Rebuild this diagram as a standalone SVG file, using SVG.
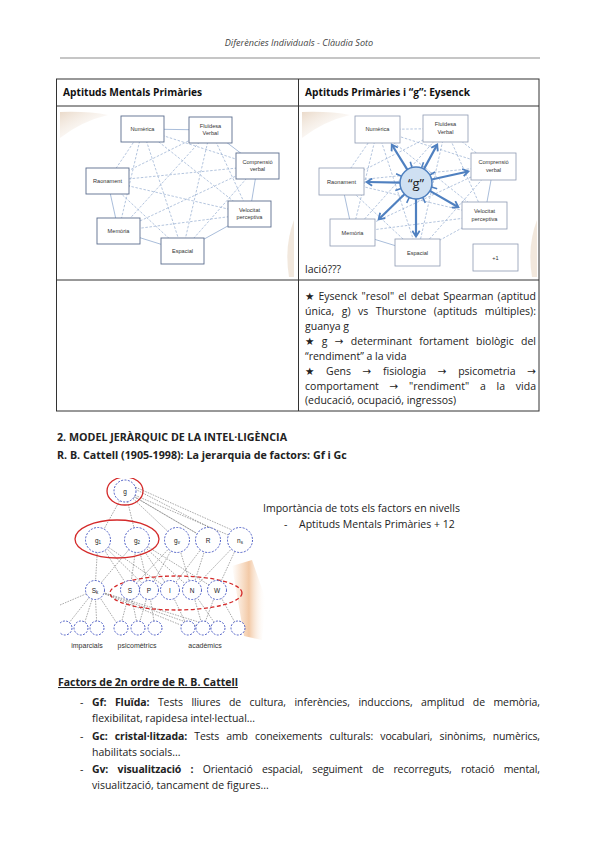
<svg xmlns="http://www.w3.org/2000/svg" width="600" height="848" viewBox="0 0 600 848">
<defs>
<style>
text{font-family:"Open Sans","Noto Sans","DejaVu Sans",sans-serif;fill:#222}
.hdr{font-size:9.1px;font-style:italic;fill:#444}
.th{font-size:10.2px;font-weight:bold;fill:#111}
.body{font-size:10.5px;fill:#222}
.h2{font-size:10.7px;font-weight:bold;fill:#222}
.bb{font-weight:bold}
.box{fill:#fff;stroke:#5b6d8e;stroke-width:0.9}
.box2{fill:#fff;stroke:#8d9ab2;stroke-width:0.8}
.bl{font-size:5.6px;fill:#333;text-anchor:middle;font-family:"Liberation Sans",Arial,sans-serif}
.ds{stroke:#93acd0;stroke-width:0.7;stroke-dasharray:2.5 1.6;fill:none}
.sl{stroke:#93acd0;stroke-width:0.8;fill:none}
.ga{stroke:#4f80c0;stroke-width:2.2;fill:none;marker-end:url(#gh)}
.ray{stroke:#4f80c0;stroke-width:1.6;fill:none}
.hc{fill:#fff;stroke:#3d4fc0;stroke-width:0.9;stroke-dasharray:2 1.4}
.hl{stroke:#555;stroke-width:0.5;stroke-dasharray:1.6 1.1;fill:none}
.red{fill:none;stroke:#d42a2a;stroke-width:1.3}
.hlab{font-size:7px;fill:#333;text-anchor:middle;font-family:"Liberation Sans",Arial,sans-serif}
.nt{font-size:6.5px;text-anchor:middle;fill:#222;font-family:"Liberation Sans",Arial,sans-serif}
.tl{stroke:#333;stroke-width:1;fill:none}
</style>
<marker id="gh" markerUnits="userSpaceOnUse" markerWidth="9" markerHeight="9" refX="6" refY="4.5" orient="auto">
<path d="M0.8,0.8 L6.5,4.5 L0.8,8.2" fill="none" stroke="#4f80c0" stroke-width="1.8"/>
</marker>
<linearGradient id="beige" x1="0" y1="0" x2="1" y2="1">
<stop offset="0" stop-color="#e8d6c4" stop-opacity="0.9"/>
<stop offset="1" stop-color="#ffffff" stop-opacity="0"/>
</linearGradient>
<linearGradient id="peach" x1="0" y1="0" x2="1" y2="0">
<stop offset="0" stop-color="#f4c7a0" stop-opacity="0"/>
<stop offset="0.5" stop-color="#f1c39c" stop-opacity="0.9"/>
<stop offset="1" stop-color="#ffffff" stop-opacity="0"/>
</linearGradient>
<clipPath id="hclip"><rect x="60" y="478" width="210" height="180"/></clipPath>
</defs>

<rect width="600" height="848" fill="#fff"/>

<g id="page-header">
<text class="hdr" x="299" y="46" text-anchor="middle">Diferències Individuals - Clàudia Soto</text>
<line x1="60" y1="58" x2="540" y2="58" stroke="#b3b3b3" stroke-width="1.5"/>
</g>

<g id="table">
<rect class="tl" x="56.5" y="79" width="482.5" height="332"/>
<line class="tl" x1="56.5" y1="106" x2="539" y2="106"/>
<line class="tl" x1="56.5" y1="280" x2="539" y2="280"/>
<line class="tl" x1="298.5" y1="79" x2="298.5" y2="411"/>
<text class="th" x="63" y="96">Aptituds Mentals Primàries</text>
<text class="th" x="305" y="96">Aptituds Primàries i “g”: Eysenck</text>
</g>

<g id="thurstone-image">
<path d="M60,112 Q88,111 108,115 Q82,121 60,138 Z" fill="url(#beige)"/>
<path d="M294,220 Q284,246 289,277 L294,277 Z" fill="#e9d8c6" opacity="0.6"/>
<g id="thurstone-connectors">
<path class="ds" d="M142.5,129 L257.5,166 M142.5,129 L107.5,181 M142.5,129 L249.5,214 M142.5,129 L118.5,231 M142.5,129 L182.5,251 M210.5,130 L107.5,181 M210.5,130 L249.5,214 M210.5,130 L118.5,231 M210.5,130 L182.5,251 M257.5,166 L107.5,181 M257.5,166 L118.5,231 M257.5,166 L182.5,251 M107.5,181 L249.5,214 M107.5,181 L182.5,251 M249.5,214 L118.5,231"/>
<path class="sl" d="M142.5,129 L210.5,130 M210.5,130 L257.5,166 M257.5,166 L249.5,214 M249.5,214 L182.5,251 M182.5,251 L118.5,231 M118.5,231 L107.5,181"/>
</g>
<g id="t-num"><rect class="box" x="121" y="116" width="43" height="26"/><text class="bl" x="142.5" y="131">Numèrica</text></g>
<g id="t-flu"><rect class="box" x="189" y="117" width="43" height="26"/><text class="bl" x="210.5" y="128">Fluïdesa</text><text class="bl" x="210.5" y="135">Verbal</text></g>
<g id="t-comp"><rect class="box" x="236" y="153" width="43" height="26"/><text class="bl" x="257.5" y="164">Comprensió</text><text class="bl" x="257.5" y="171">verbal</text></g>
<g id="t-rao"><rect class="box" x="86" y="168" width="43" height="26"/><text class="bl" x="107.5" y="183">Raonament</text></g>
<g id="t-vel"><rect class="box" x="228" y="201" width="43" height="26"/><text class="bl" x="249.5" y="212">Velocitat</text><text class="bl" x="249.5" y="219">perceptiva</text></g>
<g id="t-mem"><rect class="box" x="97" y="218" width="43" height="26"/><text class="bl" x="118.5" y="233">Memòria</text></g>
<g id="t-esp"><rect class="box" x="161" y="238" width="43" height="26"/><text class="bl" x="182.5" y="253">Espacial</text></g>
</g>

<g id="eysenck-image">
<path d="M302,112 Q330,111 350,115 Q324,121 302,138 Z" fill="url(#beige)"/>
<path d="M537,220 Q527,246 532,277 L537,277 Z" fill="#e9d8c6" opacity="0.6"/>
<g id="eysenck-connectors">
<path class="ds" d="M377.5,129.5 L493.5,166.5 M377.5,129.5 L341.5,181.5 M377.5,129.5 L484.5,215.5 M377.5,129.5 L352.5,232.5 M377.5,129.5 L417.5,252.5 M445.5,128.5 L341.5,181.5 M445.5,128.5 L484.5,215.5 M445.5,128.5 L352.5,232.5 M445.5,128.5 L417.5,252.5 M493.5,166.5 L341.5,181.5 M493.5,166.5 L352.5,232.5 M493.5,166.5 L417.5,252.5 M341.5,181.5 L484.5,215.5 M341.5,181.5 L417.5,252.5 M484.5,215.5 L352.5,232.5 M377.5,129.5 L445.5,128.5 M445.5,128.5 L493.5,166.5 M484.5,215.5 L417.5,252.5"/>
<path class="sl" d="M493.5,166.5 L484.5,215.5 M417.5,252.5 L352.5,232.5 M352.5,232.5 L341.5,181.5"/>
</g>
<g id="e-num"><rect class="box2" x="355" y="116" width="45" height="27"/><text class="bl" x="377.5" y="131">Numèrica</text></g>
<g id="e-flu"><rect class="box2" x="423" y="115" width="45" height="27"/><text class="bl" x="445.5" y="126">Fluïdesa</text><text class="bl" x="445.5" y="134">Verbal</text></g>
<g id="e-comp"><rect class="box2" x="471" y="153" width="45" height="27"/><text class="bl" x="493.5" y="164">Comprensió</text><text class="bl" x="493.5" y="172">verbal</text></g>
<g id="e-rao"><rect class="box2" x="319" y="168" width="45" height="27"/><text class="bl" x="341.5" y="183.5">Raonament</text></g>
<g id="e-vel"><rect class="box2" x="462" y="202" width="45" height="27"/><text class="bl" x="484.5" y="213">Velocitat</text><text class="bl" x="484.5" y="221">perceptiva</text></g>
<g id="e-mem"><rect class="box2" x="330" y="219" width="45" height="27"/><text class="bl" x="352.5" y="234.5">Memòria</text></g>
<g id="e-esp"><rect class="box2" x="395" y="239" width="45" height="27"/><text class="bl" x="417.5" y="254.5">Espacial</text></g>
<g id="e-plus"><rect class="box2" x="473" y="244" width="45" height="27"/><text class="bl" x="495.5" y="259.5">+1</text></g>
<g id="g-arrows">
<path class="ga" d="M407.3,169.6 L392,145"/>
<path class="ga" d="M423.9,169.1 L437,145"/>
<path class="ga" d="M431.6,179.5 L468,171.5"/>
<path class="ga" d="M400,182.7 L367,182"/>
<path class="ga" d="M429.9,190.9 L458,207"/>
<path class="ga" d="M404.5,194.2 L379,219"/>
<path class="ga" d="M416,199 L416,236"/>
<path class="ray" d="M431.5,187.1 L437.2,188.7 M422.8,197.5 L425.3,202.9 M409.2,197.5 L406.7,202.9 M401,188.5 L395.3,190.5 M401.5,176.2 L396.1,173.7 M411.9,167.5 L410.3,161.7 M421.5,168 L423.5,162.3 M429.9,175 L435,172"/>
</g>
<g id="e-g">
<circle cx="416" cy="183" r="16" fill="#cfe0f2" stroke="#4f80c0" stroke-width="1.5"/>
<text x="416" y="188" text-anchor="middle" font-size="13" fill="#222" font-family="'Liberation Sans',Arial,sans-serif">“g”</text>
</g>
<text x="305" y="273" font-size="10.5" fill="#2f3f8a" font-family="'Liberation Sans',Arial,sans-serif">lació???</text>
</g>

<g id="cell-text">
<text class="body" x="305" y="299.5" word-spacing="1.3" textLength="231" lengthAdjust="spacing">★ Eysenck "resol" el debat Spearman (aptitud</text>
<text class="body" x="305" y="314.5" word-spacing="4.8" textLength="231" lengthAdjust="spacing">única, g) vs Thurstone (aptituds múltiples):</text>
<text class="body" x="305" y="329.5">guanya g</text>
<text class="body" x="305" y="344.5" word-spacing="4.6" textLength="231" lengthAdjust="spacing">★ g → determinant fortament biològic del</text>
<text class="body" x="305" y="359.5">“rendiment” a la vida</text>
<text class="body" x="305" y="374.5" word-spacing="8.9" textLength="231" lengthAdjust="spacing">★ Gens → fisiologia → psicometria →</text>
<text class="body" x="305" y="389.5" word-spacing="7.9" textLength="231" lengthAdjust="spacing">comportament → "rendiment" a la vida</text>
<text class="body" x="305" y="404">(educació, ocupació, ingressos)</text>
</g>

<g id="section2">
<text class="h2" x="57" y="441">2. MODEL JERÀRQUIC DE LA INTEL·LIGÈNCIA</text>
<text class="h2" x="57" y="459">R. B. Cattell (1905-1998): La jerarquia de factors: Gf i Gc</text>
</g>

<g id="cattell-image" clip-path="url(#hclip)">
<path d="M232,566 L252,560 L266,600 L262,640 L244,636 Z" fill="url(#peach)"/>
<g id="hier-connectors">
<path class="hl" d="M125,491 L98,540 M125,491 L137,540 M125,491 L177,540 M125,491 L208,540 M125,491 L240,540 M133,486 L232,530 M135,489 L218,532 M131,495 L196,533"/>
<path class="hl" d="M98,540 L130,590 M98,540 L149,590 M98,540 L170,590 M98,540 L95,590 M137,540 L130,590 M137,540 L149,590 M137,540 L170,590 M137,540 L192,590 M137,540 L217,590 M137,540 L95,590 M177,540 L130,590 M177,540 L149,590 M177,540 L192,590 M208,540 L170,590 M208,540 L192,590 M240,540 L192,590 M240,540 L217,590"/>
<path class="hl" d="M95,590 L65,628 M95,590 L83,628 M95,590 L97,628 M95,590 L120,628 M95,590 L188,628 M95,590 L203,628 M95,590 L218,628 M130,590 L120,628 M130,590 L138,628 M149,590 L138,628 M149,590 L155,628 M170,590 L188,628 M192,590 L203,628 M192,590 L218,628 M217,590 L238,628 M217,590 L203,628 M60,605 L95,590"/>
</g>
<ellipse class="red" cx="125" cy="491" rx="18" ry="14"/>
<ellipse class="red" cx="117" cy="539" rx="42" ry="19"/>
<ellipse class="red" cx="176" cy="593" rx="66" ry="17" stroke-dasharray="4 2.5"/>
<g id="h-g"><circle class="hc" cx="125" cy="491" r="11"/><text class="nt" x="125" y="494">g</text></g>
<g id="h-g1"><circle class="hc" cx="98" cy="540" r="12.5"/><text class="nt" x="98" y="543">g<tspan font-size="4.5" dy="1">1</tspan></text></g>
<g id="h-g2"><circle class="hc" cx="137" cy="540" r="12.5"/><text class="nt" x="137" y="543">g<tspan font-size="4.5" dy="1">2</tspan></text></g>
<g id="h-gv"><circle class="hc" cx="177" cy="540" r="12.5"/><text class="nt" x="177" y="543">g<tspan font-size="4.5" dy="1">v</tspan></text></g>
<g id="h-r"><circle class="hc" cx="208" cy="540" r="12.5"/><text class="nt" x="208" y="543">R</text></g>
<g id="h-ns"><circle class="hc" cx="240" cy="540" r="12.5"/><text class="nt" x="240" y="543">n<tspan font-size="4.5" dy="1">s</tspan></text></g>
<g id="h-sk"><circle class="hc" cx="95" cy="590" r="9.5"/><text class="nt" x="95" y="592.5">S<tspan font-size="4.5" dy="1">k</tspan></text></g>
<g id="h-s"><circle class="hc" cx="130" cy="590" r="9.5"/><text class="nt" x="130" y="592.5">S</text></g>
<g id="h-p"><circle class="hc" cx="149" cy="590" r="9.5"/><text class="nt" x="149" y="592.5">P</text></g>
<g id="h-i"><circle class="hc" cx="170" cy="590" r="9.5"/><text class="nt" x="170" y="592.5">I</text></g>
<g id="h-n"><circle class="hc" cx="192" cy="590" r="9.5"/><text class="nt" x="192" y="592.5">N</text></g>
<g id="h-w"><circle class="hc" cx="217" cy="590" r="9.5"/><text class="nt" x="217" y="592.5">W</text></g>
<g id="h-bottom">
<circle class="hc" cx="65" cy="628" r="7"/><circle class="hc" cx="81" cy="628" r="7"/><circle class="hc" cx="97" cy="628" r="7"/>
<circle class="hc" cx="121" cy="628" r="7"/><circle class="hc" cx="138" cy="628" r="7"/><circle class="hc" cx="155" cy="628" r="7"/>
<circle class="hc" cx="188" cy="628" r="7"/><circle class="hc" cx="203" cy="628" r="7"/><circle class="hc" cx="218" cy="628" r="7"/><circle class="hc" cx="238" cy="628" r="7" stroke="#b8c0e0"/>
</g>
<text class="hlab" x="87" y="648">imparcials</text>
<text class="hlab" x="137" y="648">psicomètrics</text>
<text class="hlab" x="205" y="648">acadèmics</text>
</g>

<g id="levels-text">
<text class="body" x="263" y="512">Importància de tots els factors en nivells</text>
<text class="body" x="284" y="528">-</text>
<text class="body" x="299" y="528">Aptituds Mentals Primàries + 12</text>
</g>

<g id="factors">
<text class="body bb" x="58" y="686" text-decoration="underline">Factors de 2n ordre de R. B. Cattell</text>
<text class="body" x="80" y="706">-</text>
<text class="body" x="92" y="706" word-spacing="5.9" textLength="448" lengthAdjust="spacing"><tspan class="bb">Gf: Fluïda:</tspan> Tests lliures de cultura, inferències, induccions, amplitud de memòria,</text>
<text class="body" x="92" y="722">flexibilitat, rapidesa intel·lectual...</text>
<text class="body" x="80" y="740">-</text>
<text class="body" x="92" y="740" word-spacing="4.5" textLength="448" lengthAdjust="spacing"><tspan class="bb">Gc: cristal·litzada:</tspan> Tests amb coneixements culturals: vocabulari, sinònims, numèrics,</text>
<text class="body" x="92" y="756">habilitats socials...</text>
<text class="body" x="80" y="773">-</text>
<text class="body" x="92" y="773" word-spacing="6.7" textLength="448" lengthAdjust="spacing"><tspan class="bb">Gv: visualització :</tspan> Orientació espacial, seguiment de recorreguts, rotació mental,</text>
<text class="body" x="92" y="789">visualització, tancament de figures...</text>
</g>
</svg>
